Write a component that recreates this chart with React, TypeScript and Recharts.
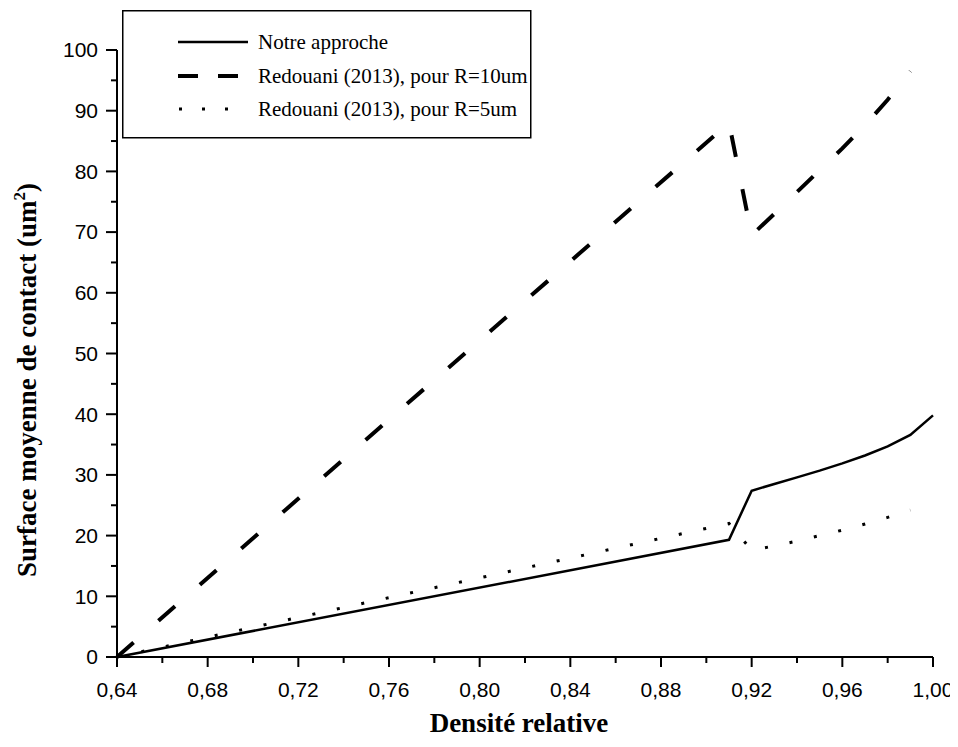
import { LineChart, Line, XAxis, YAxis, Legend, Label } from "recharts";

// Densité relative (x) et surfaces moyennes de contact (um²)
const densite = [0.64, 0.91, 0.92, 0.93, 0.94, 0.95, 0.96, 0.97, 0.98, 0.99, 1.0];
const notreApproche = [0, 19.3, 27.4, 28.5, 29.6, 30.7, 31.9, 33.2, 34.7, 36.6, 39.8];
const redouaniR10 = [0, 88.0, 69.5, 73.0, 76.6, 80.2, 83.8, 87.6, 91.8, 96.5, null];
const redouaniR5 = [0, 22.0, 17.6, 18.3, 19.1, 20.0, 20.9, 21.9, 23.0, 24.2, null];

const xTicks = [0.64, 0.66, 0.68, 0.7, 0.72, 0.74, 0.76, 0.78, 0.8, 0.82, 0.84, 0.86, 0.88, 0.9, 0.92, 0.94, 0.96, 0.98, 1.0];
const yTicks = [0, 5, 10, 15, 20, 25, 30, 35, 40, 45, 50, 55, 60, 65, 70, 75, 80, 85, 90, 95, 100];

const legendNames = ["Notre approche", "Redouani (2013), pour R=10um", "Redouani (2013), pour R=5um"];

const data = densite.map((d, i) => ({
  densite: d,
  notre: notreApproche[i],
  r10: redouaniR10[i],
  r5: redouaniR5[i],
}));

const SANS = "'Liberation Sans', Arial, sans-serif";
const SERIF = "'Liberation Serif', 'Times New Roman', serif";

function XTick(props: any) {
  const { x, y, payload } = props;
  const major = Math.round(payload.value * 100) % 4 === 0;
  return (
    <g>
      <line x1={x} x2={x} y1={y} y2={y + (major ? 10 : 6)} stroke="#000" strokeWidth={2} />
      {major && (
        <text x={x} y={y + 40} textAnchor="middle" fontFamily={SANS} fontSize={21} fill="#000">
          {payload.value.toFixed(2).replace(".", ",")}
        </text>
      )}
    </g>
  );
}

function YTick(props: any) {
  const { x, y, payload } = props;
  const major = payload.value % 10 === 0;
  return (
    <g>
      <line x1={x - (major ? 11 : 6)} x2={x} y1={y} y2={y} stroke="#000" strokeWidth={2} />
      {major && (
        <text x={x - 19} y={y} dy="0.35em" textAnchor="end" fontFamily={SANS} fontSize={21} fill="#000">
          {payload.value}
        </text>
      )}
    </g>
  );
}

function LegendBox() {
  const rows = [32, 66, 99];
  return (
    <svg width={410} height={129} style={{ display: "block" }}>
      <rect x={0.75} y={0.75} width={408} height={127} fill="#fff" stroke="#000" strokeWidth={1.5} />
      <line x1={56} x2={126} y1={rows[0]} y2={rows[0]} stroke="#000" strokeWidth={2.5} />
      <line x1={56} x2={116} y1={rows[1]} y2={rows[1]} stroke="#000" strokeWidth={4} strokeDasharray="20 20" />
      <line x1={57} x2={110} y1={rows[2]} y2={rows[2]} stroke="#000" strokeWidth={3} strokeDasharray="3 20" />
      {legendNames.map((n, i) => (
        <text key={n} x={136} y={rows[i] + 7} fontFamily={SERIF} fontSize={21} fill="#000">
          {n}
        </text>
      ))}
    </svg>
  );
}

export default function App() {
  return (
    <LineChart width={950} height={730} data={data} margin={{ top: 42, right: 25, bottom: 0, left: 0 }}>
      <XAxis
        dataKey="densite"
        type="number"
        domain={[0.64, 1.0]}
        ticks={xTicks}
        interval={0}
        height={81}
        tickSize={0}
        tickMargin={0}
        tickLine={false}
        tick={<XTick />}
        axisLine={{ stroke: "#000", strokeWidth: 2 }}
      >
        <Label
          content={() => (
            <text x={511} y={724} textAnchor="middle" fontFamily={SERIF} fontWeight="bold" fontSize={27} fill="#000">
              Densité relative
            </text>
          )}
        />
      </XAxis>
      <YAxis
        type="number"
        domain={[0, 100]}
        ticks={yTicks}
        interval={0}
        width={109}
        tickSize={0}
        tickMargin={0}
        tickLine={false}
        tick={<YTick />}
        axisLine={{ stroke: "#000", strokeWidth: 2 }}
      >
        <Label
          content={() => (
            <text
              x={28}
              y={372}
              transform="rotate(-90 28 372)"
              textAnchor="middle"
              fontFamily={SERIF}
              fontWeight="bold"
              fontSize={27}
              fill="#000"
            >
              Surface moyenne de contact (um
              <tspan dy={-11} fontSize={17}>2</tspan>
              <tspan dy={11}>)</tspan>
            </text>
          )}
        />
      </YAxis>
      <Legend
        layout="horizontal"
        verticalAlign="middle"
        align="center"
        content={() => <LegendBox />}
        wrapperStyle={{ left: 114, top: 2, width: 410, height: 129 }}
      />
      <Line
        type="linear"
        dataKey="notre"
        stroke="#000"
        strokeWidth={2.5}
        dot={false}
        isAnimationActive={false}
      />
      <Line
        type="linear"
        dataKey="r10"
        stroke="#000"
        strokeWidth={4}
        strokeDasharray="22 33"
        dot={false}
        isAnimationActive={false}
      />
      <Line
        type="linear"
        dataKey="r5"
        stroke="#000"
        strokeWidth={3}
        strokeDasharray="3 22"
        dot={false}
        isAnimationActive={false}
      />
    </LineChart>
  );
}
